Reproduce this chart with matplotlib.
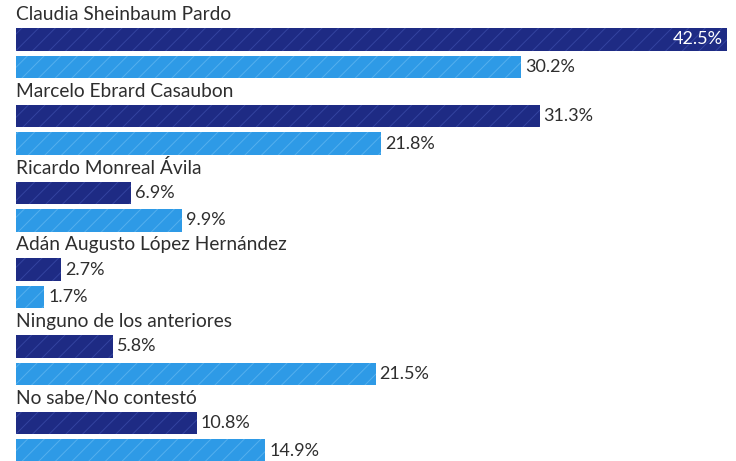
import matplotlib
matplotlib.use("Agg")
import matplotlib.pyplot as plt

categories = ["Claudia Sheinbaum Pardo", "Marcelo Ebrard Casaubon", "Ricardo Monreal Ávila",
              "Adán Augusto López Hernández", "Ninguno de los anteriores", "No sabe/No contestó"]
series_dark = [42.5, 31.3, 6.9, 2.7, 5.8, 10.8]
series_light = [30.2, 21.8, 9.9, 1.7, 21.5, 14.9]

plt.rcParams['font.family'] = ['Lato', 'DejaVu Sans']
plt.rcParams['hatch.linewidth'] = 0.7

W, H = 736, 461
fig = plt.figure(figsize=(W / 100, H / 100), dpi=100)
ax = fig.add_axes([0, 0, 1, 1])
ppu = 16.73  # pixels per percent
x0 = 16
ax.set_xlim(-x0 / ppu, (W - x0) / ppu)
ax.set_ylim(H, 0)
ax.axis('off')

dark, dark_h = '#1e2b84', '#3444a0'
light, light_h = '#2e9ae6', '#55b0ee'
period = 76.7
bh = 22.5
txt = '#2e2e2e'
fs = 13
fs_cat = 13.8
for i, (cat, d, l) in enumerate(zip(categories, series_dark, series_light)):
    yd = 39.5 + period * i
    yl = yd + 27.5
    ax.barh(yd, d, height=bh, left=0, color=dark, edgecolor=dark_h, linewidth=0, hatch='//')
    ax.barh(yl, l, height=bh, left=0, color=light, edgecolor=light_h, linewidth=0, hatch='//')
    ax.text(0, yd - 25, cat, fontsize=fs_cat, color=txt, va='center', ha='left')
    if d > 40:
        ax.text(d - 4 / ppu, yd, f"{d:.1f}%", fontsize=fs, color='white', va='center', ha='right')
    else:
        ax.text(d + 4 / ppu, yd, f"{d:.1f}%", fontsize=fs, color=txt, va='center', ha='left')
    ax.text(l + 4 / ppu, yl, f"{l:.1f}%", fontsize=fs, color=txt, va='center', ha='left')

fig.savefig('out.png', dpi=100, facecolor='white')
